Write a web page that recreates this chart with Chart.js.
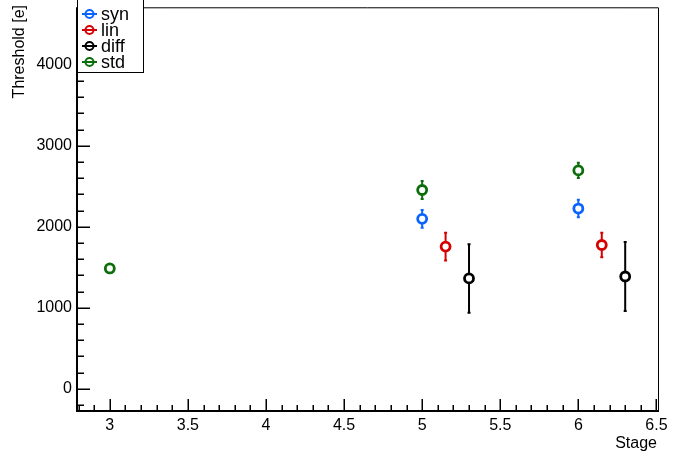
<!DOCTYPE html>
<html>
<head>
<meta charset="utf-8">
<script src="https://cdn.jsdelivr.net/npm/chart.js@4/dist/chart.umd.min.js"></script>
<style>
  html, body { margin: 0; padding: 0; background: #fff; }
  #wrap { width: 680px; height: 455px; }
</style>
</head>
<body>
<div id="wrap"><canvas id="chart" width="680" height="455"></canvas></div>
<script>
// values
const stageSyn = [5, 6];
const thrSyn = [2098, 2225];
const errSyn = [110, 108];

const stageLin = [5.15, 6.15];
const thrLin = [1755, 1775];
const errLin = [172, 150];

const stageDiff = [5.3, 6.3];
const thrDiff = [1362, 1386];
const errDiff = [423, 425];

const stageStd = [3, 5, 6];
const thrStd = [1485, 2454, 2696];
const errStd = [35, 110, 95];

const xTicks = [3, 3.5, 4, 4.5, 5, 5.5, 6, 6.5];
const yTicks = [0, 1000, 2000, 3000, 4000];

const FONT = '"Liberation Sans", Arial, sans-serif';

function pts(xs, ys) {
  return xs.map((x, i) => ({ x: x, y: ys[i] }));
}

function series(label, color, xs, ys, errs) {
  return {
    label: label,
    data: pts(xs, ys),
    errors: errs,
    borderColor: color,
    backgroundColor: '#ffffff',
    pointRadius: 4.5,
    pointBorderWidth: 2.8,
    pointStyle: 'circle',
    showLine: false
  };
}

// vertical error bars, drawn under the markers
const errorBars = {
  id: 'errorBars',
  beforeDatasetsDraw(chart) {
    const ctx = chart.ctx;
    const y = chart.scales.y;
    ctx.save();
    chart.data.datasets.forEach((ds, i) => {
      const meta = chart.getDatasetMeta(i);
      ctx.strokeStyle = ds.borderColor;
      ctx.lineWidth = 2;
      ds.data.forEach((p, j) => {
        const px = meta.data[j].x;
        const top = y.getPixelForValue(p.y + ds.errors[j]);
        const bot = y.getPixelForValue(p.y - ds.errors[j]);
        ctx.beginPath();
        ctx.moveTo(px, top);
        ctx.lineTo(px, bot);
        ctx.moveTo(px - 1.5, top);
        ctx.lineTo(px + 1.5, top);
        ctx.moveTo(px - 1.5, bot);
        ctx.lineTo(px + 1.5, bot);
        ctx.stroke();
      });
    });
    ctx.restore();
  }
};

// ROOT-like frame, inward ticks, axis titles and legend box
const frame = {
  id: 'frame',
  afterDraw(chart) {
    const ctx = chart.ctx;
    const a = chart.chartArea;
    const xs = chart.scales.x;
    const ys = chart.scales.y;
    ctx.save();
    ctx.strokeStyle = '#000';

    // thin top/right border
    ctx.lineWidth = 1;
    ctx.beginPath();
    ctx.moveTo(a.left, a.top + 0.5);
    ctx.lineTo(a.right + 0.5, a.top + 0.5);
    ctx.lineTo(a.right + 0.5, a.bottom);
    ctx.stroke();

    // axis lines
    ctx.lineWidth = 2;
    ctx.beginPath();
    ctx.moveTo(a.left, a.top);
    ctx.lineTo(a.left, a.bottom);
    ctx.lineTo(a.right + 1, a.bottom);
    ctx.stroke();

    // x ticks: major every 0.5, minor every 0.1
    ctx.lineWidth = 1.5;
    ctx.beginPath();
    for (let k = 28; k <= 65; k++) {
      const v = k / 10;
      const px = Math.round(xs.getPixelForValue(v)) + 0.25;
      const len = (k % 5 === 0) ? 12 : 6;
      ctx.moveTo(px, a.bottom);
      ctx.lineTo(px, a.bottom - len);
    }
    // y ticks: major every 1000, minor every 200
    for (let k = -1; k <= 23; k++) {
      const v = k * 200;
      const py = Math.round(ys.getPixelForValue(v)) + 0.25;
      const len = (k % 5 === 0) ? 13 : 7;
      ctx.moveTo(a.left, py);
      ctx.lineTo(a.left + len, py);
    }
    ctx.stroke();

    // axis titles
    ctx.fillStyle = '#000';
    ctx.font = '16px ' + FONT;
    ctx.textAlign = 'right';
    ctx.textBaseline = 'alphabetic';
    ctx.fillText('Stage', 657, 448);

    ctx.save();
    ctx.translate(24, 5);
    ctx.rotate(-Math.PI / 2);
    ctx.textAlign = 'right';
    ctx.fillText('Threshold [e]', 0, 0);
    ctx.restore();

    // legend
    const lx = 77, lw = 66, lh = 73;
    ctx.fillStyle = '#fff';
    ctx.fillRect(lx, -1, lw, lh);
    ctx.lineWidth = 1;
    ctx.strokeRect(lx + 0.5, -0.5, lw, lh);
    ctx.font = '18px ' + FONT;
    ctx.textAlign = 'left';
    ctx.textBaseline = 'middle';
    chart.data.datasets.forEach((ds, i) => {
      const cy = 14 + i * 16;
      ctx.strokeStyle = ds.borderColor;
      ctx.lineWidth = 2;
      ctx.beginPath();
      ctx.moveTo(82, cy);
      ctx.lineTo(97, cy);
      ctx.stroke();
      ctx.beginPath();
      ctx.arc(89.5, cy, 4, 0, Math.PI * 2);
      ctx.stroke();
      ctx.fillStyle = '#000';
      ctx.fillText(ds.label, 101, cy + 1);
    });
    ctx.restore();
  }
};

const ctx = document.getElementById('chart').getContext('2d');
new Chart(ctx, {
  type: 'scatter',
  data: {
    datasets: [
      series('syn', '#0a64ff', stageSyn, thrSyn, errSyn),
      series('lin', '#d60000', stageLin, thrLin, errLin),
      series('diff', '#000000', stageDiff, thrDiff, errDiff),
      series('std', '#0b6e0b', stageStd, thrStd, errStd)
    ]
  },
  options: {
    responsive: false,
    animation: false,
    events: [],
    layout: { padding: { left: 0, right: 22, top: 5, bottom: 0 } },
    plugins: {
      legend: { display: false },
      tooltip: { enabled: false }
    },
    scales: {
      x: {
        type: 'linear',
        min: 2.79,
        max: 6.51,
        grid: { display: false, drawTicks: false },
        border: { display: false },
        afterBuildTicks: (s) => { s.ticks = xTicks.map(v => ({ value: v })); },
        afterFit: (s) => { s.height = 44; s.paddingLeft = 0; s.paddingRight = 0; },
        ticks: {
          padding: 5,
          color: '#000',
          font: { family: FONT, size: 16 },
          callback: (v) => String(v)
        }
      },
      y: {
        type: 'linear',
        min: -275,
        max: 4710,
        grid: { display: false, drawTicks: false },
        border: { display: false },
        afterBuildTicks: (s) => { s.ticks = yTicks.map(v => ({ value: v })); },
        afterFit: (s) => { s.width = 77; s.paddingTop = 0; s.paddingBottom = 0; },
        ticks: {
          padding: 5,
          color: '#000',
          font: { family: FONT, size: 16 },
          callback: (v) => String(v)
        }
      }
    }
  },
  plugins: [errorBars, frame]
});
</script>
</body>
</html>
